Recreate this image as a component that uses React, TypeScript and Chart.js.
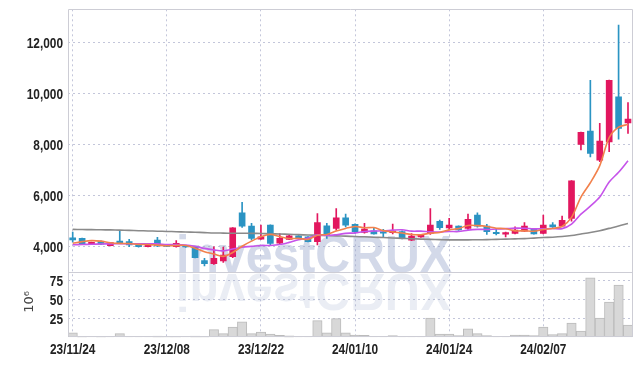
import React, { useEffect, useRef } from 'react';
import { Chart, registerables } from 'chart.js';

Chart.register(...registerables);

const DATES = [
  '23/11/24', '23/11/27', '23/11/28', '23/11/29', '23/11/30', '23/12/01', '23/12/04', '23/12/05', '23/12/06', '23/12/07',
  '23/12/08', '23/12/11', '23/12/12', '23/12/13', '23/12/14', '23/12/15', '23/12/18', '23/12/19', '23/12/20', '23/12/21',
  '23/12/22', '23/12/26', '23/12/27', '23/12/28', '24/01/02', '24/01/03', '24/01/04', '24/01/05', '24/01/08', '24/01/09',
  '24/01/10', '24/01/11', '24/01/12', '24/01/15', '24/01/16', '24/01/17', '24/01/18', '24/01/19', '24/01/22', '24/01/23',
  '24/01/24', '24/01/25', '24/01/26', '24/01/29', '24/01/30', '24/01/31', '24/02/01', '24/02/02', '24/02/05', '24/02/06',
  '24/02/07', '24/02/08', '24/02/13', '24/02/14', '24/02/15', '24/02/16', '24/02/19', '24/02/20', '24/02/21', '24/02/22',
];

const OPEN = [
  4350, 4330, 4090, 4200, 4040, 4220, 4200, 4070, 4000, 4260,
  4040, 4000, 4030, 4000, 3460, 3340, 3450, 3610, 5330, 4810,
  4300, 4850, 4140, 4290, 4430, 4390, 4200, 4820, 4720, 5130,
  4880, 4560, 4620, 4570, 4550, 4590, 4260, 4390, 4520, 5000,
  4740, 4810, 4720, 5240, 4810, 4550, 4490, 4520, 4610, 4690,
  4520, 4860, 4810, 5110, 8010, 8530, 7390, 8110, 9870, 8850,
];

const CLOSE = [
  4270, 4100, 4170, 4100, 4160, 4130, 4070, 4000, 4090, 4030,
  4010, 4130, 3990, 3570, 3340, 3550, 3670, 4740, 4810, 4330,
  4390, 4130, 4330, 4430, 4360, 4200, 4950, 4460, 5130, 4850,
  4590, 4690, 4500, 4530, 4610, 4350, 4420, 4440, 4850, 4750,
  4850, 4660, 5070, 4810, 4590, 4510, 4560, 4650, 4810, 4500,
  4850, 4780, 5040, 6580, 8480, 7660, 8140, 10520, 8630, 9000,
];

const HIGH = [
  4580, 4340, 4180, 4230, 4170, 4600, 4290, 4080, 4100, 4370,
  4050, 4240, 4060, 4020, 3550, 4000, 3990, 4750, 5740, 4920,
  4850, 4860, 4520, 4460, 4440, 4400, 5300, 4920, 5500, 5280,
  4900, 4920, 4720, 4680, 4890, 4620, 4520, 4470, 5500, 5050,
  5110, 4820, 5280, 5330, 4880, 4720, 4580, 4780, 4950, 4720,
  5240, 4950, 5200, 6590, 8490, 10520, 8830, 10530, 12680, 9650,
];

const LOW = [
  4180, 4090, 4080, 4080, 4030, 4120, 4000, 3980, 3990, 4000,
  4000, 3980, 3970, 3560, 3250, 3310, 3390, 3570, 4760, 4260,
  4290, 4060, 4090, 4280, 4350, 4190, 4070, 4330, 4650, 4780,
  4520, 4530, 4490, 4390, 4500, 4310, 4240, 4370, 4480, 4680,
  4680, 4640, 4680, 4770, 4480, 4460, 4390, 4500, 4590, 4490,
  4500, 4760, 4790, 5000, 7790, 7520, 7330, 7720, 8210, 8440,
];

// trading volume, millions of shares
const VOLUME = [
  5.8, 1.0, 0.8, 1.0, 0.5, 4.9, 0.3, 0.3, 0.5, 1.5,
  0.4, 1.2, 0.5, 1.5, 1.2, 10.2, 4.9, 13.7, 20.4, 4.9,
  7.1, 4.4, 2.7, 1.8, 0.3, 0.3, 22.1, 5.8, 24.8, 5.8,
  3.1, 2.7, 1.3, 0.5, 2.2, 0.3, 0.3, 0.3, 25.7, 4.4,
  4.4, 2.2, 11.1, 4.9, 2.2, 0.5, 0.5, 3.1, 3.1, 2.2,
  13.7, 3.5, 4.9, 19, 8.4, 79.2, 25.7, 46.9, 69.5, 16.4,
];

const MA5 = [
  4140, 4200, 4240, 4220, 4160, 4132, 4126, 4092, 4090, 4064,
  4040, 4052, 4050, 3946, 3808, 3716, 3624, 3774, 4022, 4220,
  4388, 4480, 4398, 4322, 4328, 4290, 4454, 4480, 4620, 4718,
  4796, 4744, 4752, 4632, 4584, 4536, 4482, 4470, 4534, 4562,
  4662, 4710, 4836, 4828, 4796, 4728, 4708, 4624, 4624, 4606,
  4674, 4718, 4796, 5150, 5946, 6508, 7180, 8276, 8686, 8790,
];

const MA10 = [
  4080, 4090, 4100, 4110, 4115, 4120, 4120, 4118, 4115, 4112,
  4086, 4089, 4071, 4018, 3936, 3878, 3838, 3912, 3984, 4014,
  4052, 4052, 4086, 4172, 4274, 4339, 4467, 4439, 4471, 4523,
  4543, 4599, 4616, 4626, 4651, 4666, 4613, 4611, 4583, 4573,
  4599, 4596, 4653, 4681, 4679, 4695, 4709, 4730, 4726, 4701,
  4701, 4713, 4710, 4887, 5276, 5591, 5949, 6536, 6918, 7368,
];

const MA60 = [
  4680, 4675, 4670, 4665, 4660, 4650, 4640, 4630, 4620, 4610,
  4600, 4590, 4580, 4570, 4555, 4540, 4535, 4530, 4530, 4525,
  4520, 4510, 4500, 4490, 4475, 4460, 4450, 4440, 4425, 4415,
  4400, 4390, 4375, 4360, 4345, 4330, 4315, 4300, 4290, 4280,
  4270, 4270, 4270, 4275, 4280, 4290, 4300, 4310, 4320, 4340,
  4360, 4375, 4400, 4440, 4500, 4560, 4630, 4720, 4810, 4910,
];

const PRICE_TICKS = [4000, 6000, 8000, 10000, 12000];
const VOLUME_TICKS = [25, 50, 75];
const X_TICK_LABELS = ['23/11/24', '23/12/08', '23/12/22', '24/01/10', '24/01/24', '24/02/07'];
const VOLUME_UNIT = '10⁶';
const WATERMARK = 'investCRUX';

const UP = '#e2175f';
const DOWN = '#2b94c3';
const GRID = '#c3c6da';
const FRAME = '#cdcdd5';
const LABEL_FONT = 'bold 15px "Liberation Sans", Arial, sans-serif';
const LABEL_SQUEEZE = 0.79;

function drawSqueezed(ctx: CanvasRenderingContext2D, text: string, x: number, y: number, align: CanvasTextAlign, baseline: CanvasTextBaseline) {
  ctx.save();
  ctx.translate(x, y);
  ctx.scale(LABEL_SQUEEZE, 1);
  ctx.textAlign = align;
  ctx.textBaseline = baseline;
  ctx.fillText(text, 0, 0);
  ctx.restore();
}

const framePlugin = {
  id: 'frameAndMarks',
  beforeDatasetsDraw(chart: any) {
    const { ctx, chartArea } = chart;
    const y = chart.scales.y;
    const base = y.bottom - 0.5;
    ctx.save();
    ctx.font = 'bold 52px "Liberation Sans", Arial, sans-serif';
    ctx.textBaseline = 'alphabetic';
    const w = ctx.measureText(WATERMARK).width;
    const sx = 276 / w;
    const x0 = chartArea.left + 108;
    ctx.save();
    ctx.translate(x0, base);
    ctx.scale(sx, 1);
    ctx.fillStyle = 'rgba(150,165,202,0.42)';
    ctx.fillText(WATERMARK, 0, 0);
    ctx.restore();
    ctx.save();
    ctx.translate(x0, base + 2);
    ctx.scale(sx, -1);
    ctx.fillStyle = 'rgba(150,165,202,0.2)';
    ctx.fillText(WATERMARK, 0, 0);
    ctx.restore();
    ctx.restore();
  },
  afterDraw(chart: any) {
    const { ctx, chartArea } = chart;
    const x = chart.scales.x;
    const y = chart.scales.y;
    const yv = chart.scales.yv;
    ctx.save();
    ctx.strokeStyle = FRAME;
    ctx.lineWidth = 1;
    const l = Math.round(chartArea.left) + 0.5;
    const r = Math.round(chartArea.right) - 0.5;
    const t = Math.round(chartArea.top) + 0.5;
    const b = Math.round(chartArea.bottom) - 0.5;
    const m = Math.round(y.bottom) + 0.5;
    ctx.beginPath();
    ctx.moveTo(l, t); ctx.lineTo(r, t); ctx.lineTo(r, b); ctx.lineTo(l, b); ctx.closePath();
    ctx.moveTo(l, m); ctx.lineTo(r, m);
    ctx.stroke();

    // axis tick labels (condensed)
    ctx.fillStyle = '#222';
    ctx.font = LABEL_FONT;
    y.ticks.forEach((tk: any) => {
      drawSqueezed(ctx, Number(tk.value).toLocaleString('en-US'), chartArea.left - 5, y.getPixelForValue(tk.value) + 1, 'right', 'middle');
    });
    yv.ticks.forEach((tk: any) => {
      drawSqueezed(ctx, String(tk.value), chartArea.left - 5, yv.getPixelForValue(tk.value) + 1, 'right', 'middle');
    });
    x.ticks.forEach((tk: any) => {
      drawSqueezed(ctx, DATES[tk.value], x.getPixelForValue(tk.value), chartArea.bottom + 5, 'center', 'top');
    });

    // volume unit label
    ctx.save();
    ctx.translate(22, (yv.top + yv.bottom) / 2 - 3);
    ctx.rotate(-Math.PI / 2);
    ctx.fillStyle = '#444';
    ctx.font = '13px "DejaVu Sans", sans-serif';
    ctx.textAlign = 'center';
    ctx.textBaseline = 'middle';
    ctx.fillText(VOLUME_UNIT, 0, 0);
    ctx.restore();
    ctx.restore();
  },
};

const zeroPad = (s: any) => {
  s.paddingTop = 0; s.paddingBottom = 0; s.paddingLeft = 0; s.paddingRight = 0;
};

export default function App() {
  const ref = useRef<HTMLCanvasElement | null>(null);

  useEffect(() => {
    if (!ref.current) return;
    const colors = OPEN.map((o, i) => (CLOSE[i] >= o ? UP : DOWN));
    const chart = new Chart(ref.current, {
      type: 'bar',
      data: {
        labels: DATES,
        datasets: [
          {
            type: 'line', label: 'MA5', data: MA5, yAxisID: 'y', borderColor: '#f2814c', borderWidth: 1.6,
            pointRadius: 0, tension: 0.3, order: 0,
          },
          {
            type: 'line', label: 'MA10', data: MA10, yAxisID: 'y', borderColor: '#c653ea', borderWidth: 1.6,
            pointRadius: 0, tension: 0.3, order: 0,
          },
          {
            type: 'line', label: 'MA60', data: MA60, yAxisID: 'y', borderColor: '#8a8a8a', borderWidth: 1.6,
            pointRadius: 0, tension: 0.3, order: 0,
          },
          {
            type: 'bar', label: 'wick', data: LOW.map((lo, i) => [lo, HIGH[i]]), yAxisID: 'y',
            backgroundColor: colors, barThickness: 1, grouped: false, order: 1,
          },
          {
            type: 'bar', label: 'body', data: OPEN.map((o, i) => [o, CLOSE[i]]), yAxisID: 'y',
            backgroundColor: colors, barThickness: 6, minBarLength: 1.5, grouped: false, order: 1,
          },
          {
            type: 'bar', label: 'volume', data: VOLUME, yAxisID: 'yv',
            backgroundColor: '#d8d8d8', borderColor: '#bbbbbb', borderWidth: 1,
            barPercentage: 1, categoryPercentage: 1, grouped: false, order: 2,
          },
        ] as any,
      },
      options: {
        animation: false,
        responsive: false,
        layout: { padding: { top: 1.3, right: 1.3, left: 0, bottom: 0 } },
        plugins: { legend: { display: false }, tooltip: { enabled: false } },
        scales: {
          x: {
            type: 'category',
            offset: true,
            grid: { offset: false, color: GRID, drawTicks: false },
            border: { display: false, dash: [2, 3] },
            ticks: { display: false, autoSkip: false, maxRotation: 0 },
            afterBuildTicks: (s: any) => {
              s.ticks = X_TICK_LABELS.map((l) => ({ value: DATES.indexOf(l) }));
            },
            afterFit: (s: any) => { s.height = 20.7; zeroPad(s); },
          },
          y: {
            type: 'linear', position: 'left', stack: 'panels', stackWeight: 263, weight: 2,
            min: 3000, max: 13300,
            afterBuildTicks: (s: any) => { s.ticks = PRICE_TICKS.map((v) => ({ value: v })); },
            ticks: { display: false },
            grid: { color: GRID, drawTicks: false },
            border: { display: false, dash: [2, 3] },
            afterFit: (s: any) => { s.width = 60; zeroPad(s); },
          },
          yv: {
            type: 'linear', position: 'left', stack: 'panels', stackWeight: 65, weight: 1,
            min: 0, max: 86.4,
            afterBuildTicks: (s: any) => { s.ticks = VOLUME_TICKS.map((v) => ({ value: v })); },
            ticks: { display: false },
            grid: { color: GRID, drawTicks: false },
            border: { display: false, dash: [2, 3] },
            afterFit: (s: any) => { s.width = 60; zeroPad(s); },
          },
        } as any,
      },
      plugins: [framePlugin],
    });
    return () => chart.destroy();
  }, []);

  return (
    <div style={{ width: 626, height: 350 }}>
      <canvas ref={ref} width={626} height={350} style={{ display: 'block' }} />
    </div>
  );
}
